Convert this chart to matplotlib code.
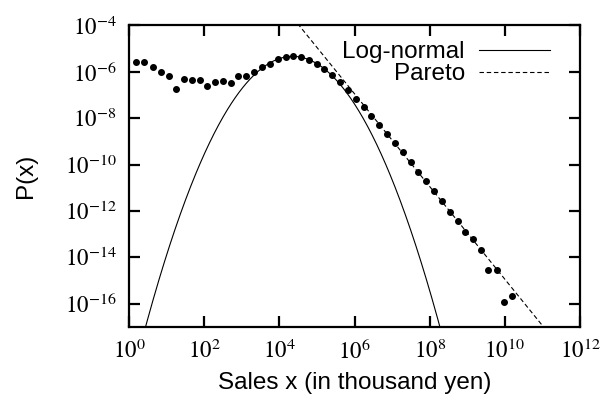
import numpy as np
import matplotlib
matplotlib.use("Agg")
import matplotlib.pyplot as plt
from matplotlib.ticker import FixedLocator, FuncFormatter

plt.rcParams['font.family'] = ['Liberation Sans', 'DejaVu Sans']
plt.rcParams['mathtext.fontset'] = 'stix'

# data points (log10 of sales, log10 of P(x))
log_sales = [0.19, 0.41, 0.64, 0.85, 1.05, 1.26, 1.46, 1.67, 1.88, 2.08,
             2.29, 2.50, 2.70, 2.91, 3.12, 3.33, 3.54, 3.75, 3.96, 4.17,
             4.37, 4.58, 4.79, 4.99, 5.19, 5.40, 5.61, 5.83, 6.03, 6.24,
             6.44, 6.65, 6.87, 7.07, 7.28, 7.49, 7.70, 7.90, 8.12, 8.33,
             8.54, 8.74, 8.94, 9.15, 9.36, 9.56, 9.78, 9.98, 10.19]
log_prob = [-5.56, -5.58, -5.78, -5.99, -6.16, -6.73, -6.33, -6.37, -6.34, -6.63,
            -6.44, -6.39, -6.47, -6.19, -6.17, -6.01, -5.80, -5.66, -5.44, -5.35,
            -5.31, -5.35, -5.50, -5.66, -5.88, -6.13, -6.44, -6.77, -7.16, -7.52,
            -7.91, -8.29, -8.68, -9.08, -9.47, -9.90, -10.30, -10.73, -11.15, -11.58,
            -12.03, -12.42, -12.91, -13.21, -13.67, -14.55, -14.55, -15.92, -15.65]

# fitted curves
ln_mu = 11.54     # log-normal mean of ln x
ln_sigma = 1.23   # log-normal sigma of ln x
ln_scale = 0.69   # weight of the log-normal part
pareto_c = 10**5.05
pareto_exp = 2.0

x_ticks = [0, 2, 4, 6, 8, 10, 12]
y_ticks = [-16, -14, -12, -10, -8, -6, -4]

sales = 10.0**np.array(log_sales)
prob = 10.0**np.array(log_prob)

xs = np.logspace(0, 12, 600)
lognorm = ln_scale * np.exp(-(np.log(xs) - ln_mu)**2 / (2 * ln_sigma**2)) / (xs * ln_sigma * np.sqrt(2 * np.pi))
xp = np.logspace(4, 11, 200)
pareto = pareto_c * xp**(-pareto_exp)

fig = plt.figure(figsize=(6.03, 4.04), dpi=100)
ax = fig.add_axes([0.214, 0.191, 0.748, 0.746])

ax.plot(xs, lognorm, color='black', lw=0.8, label='Log-normal')
ax.plot(xp, pareto, color='black', lw=0.8, ls=(0, (4, 2.5)), label='Pareto')
ax.plot(sales, prob, 'o', color='black', ms=4, ls='none')

ax.set_xscale('log')
ax.set_yscale('log')
ax.set_xlim(1, 1e12)
ax.set_ylim(1e-17, 1e-4)

ax.xaxis.set_major_locator(FixedLocator([10.0**k for k in x_ticks]))
ax.yaxis.set_major_locator(FixedLocator([10.0**k for k in y_ticks]))
ax.xaxis.set_minor_locator(FixedLocator([]))
ax.yaxis.set_minor_locator(FixedLocator([]))
fmt = FuncFormatter(lambda v, p: r'$10^{%d}$' % round(np.log10(v)))
ax.xaxis.set_major_formatter(fmt)
ax.yaxis.set_major_formatter(fmt)

ax.tick_params(which='both', direction='in', top=True, right=True,
               length=8, width=1.6, labelsize=16.5, pad=9)
for s in ax.spines.values():
    s.set_linewidth(1.6)

ax.set_xlabel('Sales x (in thousand yen)', fontsize=17.5, labelpad=6)
ax.set_ylabel('P(x)', fontsize=17.5, labelpad=20)

leg = ax.legend(loc='upper right', bbox_to_anchor=(0.933, 0.948),
                frameon=False, markerfirst=False, fontsize=17.5,
                handlelength=2.9, handletextpad=0.6, labelspacing=0.0,
                borderpad=0, borderaxespad=0)

fig.savefig('out.png', dpi=100)
